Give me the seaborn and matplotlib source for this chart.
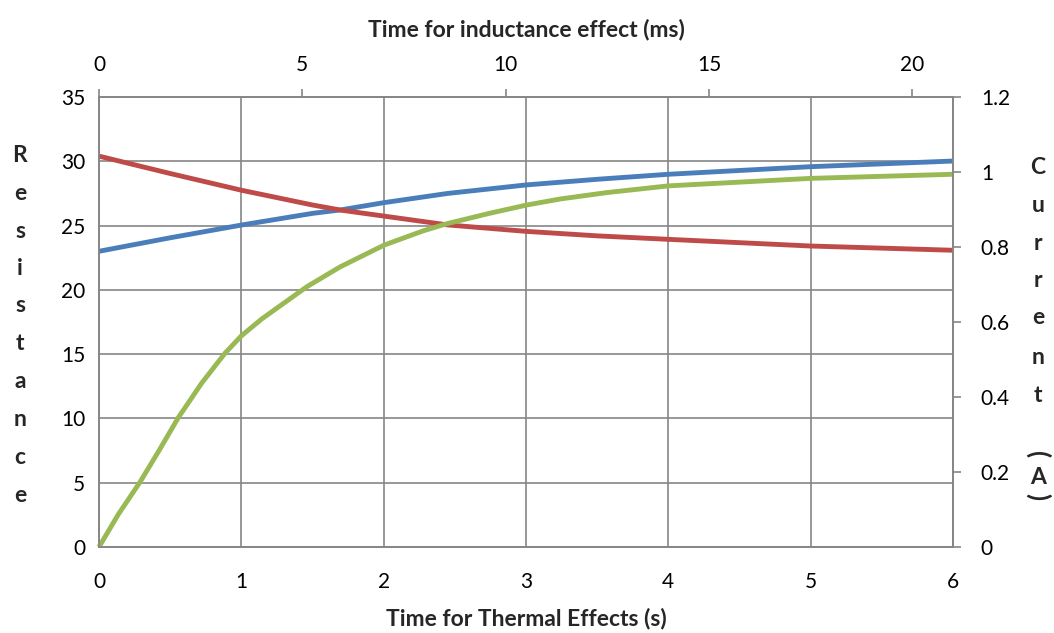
import matplotlib
matplotlib.use("Agg")
import matplotlib.pyplot as plt
import seaborn as sns
import pandas as pd

# ---- data ----
thermal_time_s = [0, 0.5, 1, 1.5, 1.7, 2, 2.45, 3, 3.5, 4, 5, 6]
resistance_blue = [23.0, 24.05, 25.04, 25.95, 26.22, 26.78, 27.5, 28.16, 28.6, 28.99, 29.58, 30.02]
resistance_red = [30.4, 29.05, 27.75, 26.6, 26.2, 25.74, 25.05, 24.55, 24.2, 23.93, 23.41, 23.08]

inductance_time_ms = [0, 0.475, 1.008, 1.459, 1.95, 2.525, 3.10, 3.5, 4.0, 5.11, 5.93,
                      7.01, 7.97, 8.55, 9.61, 10.52, 11.34, 12.48, 14.0, 17.5, 21.0]
current_green = [0, 0.087, 0.173, 0.254, 0.345, 0.437, 0.517, 0.563, 0.608, 0.694, 0.747,
                 0.805, 0.843, 0.862, 0.890, 0.912, 0.928, 0.945, 0.963, 0.983, 0.994]

bottom_ticks = [0, 1, 2, 3, 4, 5, 6]
top_ticks = [0, 5, 10, 15, 20]
left_ticks = [0, 5, 10, 15, 20, 25, 30, 35]
right_ticks = [0, 0.2, 0.4, 0.6, 0.8, 1.0, 1.2]
right_ticklabels = ["0", "0.2", "0.4", "0.6", "0.8", "1", "1.2"]

# ---- style ----
sns.set_style("white")
plt.rcParams["font.family"] = ["Lato", "DejaVu Sans"]

W, H = 1054, 633
fig = plt.figure(figsize=(W / 100, H / 100), dpi=100)
pos = [99 / W, 1 - 547 / H, (953 - 99) / W, (547 - 97) / H]
ax = fig.add_axes(pos)
ax2 = fig.add_axes(pos, facecolor="none")

GRID = "#868686"
BLUE = "#4a7ebb"
RED = "#be4b48"
GREEN = "#98b954"
LW = 3.5

df_b = pd.DataFrame({"t": thermal_time_s, "R": resistance_blue})
df_r = pd.DataFrame({"t": thermal_time_s, "R": resistance_red})
df_g = pd.DataFrame({"t": inductance_time_ms, "I": current_green})

sns.lineplot(data=df_b, x="t", y="R", ax=ax, color=BLUE, linewidth=LW, legend=False)
sns.lineplot(data=df_r, x="t", y="R", ax=ax, color=RED, linewidth=LW, legend=False)
sns.lineplot(data=df_g, x="t", y="I", ax=ax2, color=GREEN, linewidth=LW, legend=False)

for l in ax.lines + ax2.lines:
    l.set_solid_capstyle("butt")
    l.set_solid_joinstyle("round")
    l.set_clip_on(False)

# primary axes
ax.set_xlim(0, 6)
ax.set_ylim(0, 35)
ax.set_xticks(bottom_ticks)
ax.set_yticks(left_ticks)
ax.grid(True, color=GRID, linewidth=1.2)
ax.set_axisbelow(True)
ax.tick_params(axis="both", length=0, labelsize=15, colors="black")
ax.tick_params(axis="x", pad=18)
ax.tick_params(axis="y", pad=10)
ax.set_xlabel("Time for Thermal Effects (s)", fontsize=16.5, fontweight="bold", labelpad=11)
ax.set_ylabel("")
for s in ax.spines.values():
    s.set_color(GRID)
    s.set_linewidth(1.2)

# secondary axes (top x, right y)
ax2.set_xlim(0, 21)
ax2.set_ylim(0, 1.2)
ax2.xaxis.tick_top()
ax2.xaxis.set_label_position("top")
ax2.yaxis.tick_right()
ax2.set_xticks(top_ticks)
ax2.set_yticks(right_ticks)
ax2.set_yticklabels(right_ticklabels)
ax2.tick_params(axis="both", direction="out", length=6, width=1.2, color=GRID,
                labelsize=15, labelcolor="black")
ax2.tick_params(axis="x", pad=10)
ax2.tick_params(axis="y", pad=14)
ax2.set_xlabel("Time for inductance effect (ms)", fontsize=16.5, fontweight="bold", labelpad=13)
ax2.set_ylabel("")
ax2.grid(False)
for s in ax2.spines.values():
    s.set_color(GRID)
    s.set_linewidth(1.2)

# stacked-letter axis titles
FS = 16.5
left_letters = list("Resistance")
left_y = [155, 193, 231, 268, 306, 344, 382, 420, 458, 495]
for ch, y in zip(left_letters, left_y):
    fig.text(20 / W, 1 - y / H, ch, ha="center", va="center", fontsize=FS, fontweight="bold")

right_letters = list("Current")
right_y = [167, 205, 243, 280, 318, 358, 395]
for ch, y in zip(right_letters, right_y):
    fig.text(1038 / W, 1 - y / H, ch, ha="center", va="center", fontsize=FS, fontweight="bold")
fig.text(1038 / W, 1 - 455 / H, "(", ha="center", va="center", fontsize=FS + 2,
         fontweight="bold", rotation=270)
fig.text(1038 / W, 1 - 477 / H, "A", ha="center", va="center", fontsize=FS, fontweight="bold")
fig.text(1038 / W, 1 - 497 / H, ")", ha="center", va="center", fontsize=FS + 2,
         fontweight="bold", rotation=270)

fig.savefig("out.png", dpi=100)
